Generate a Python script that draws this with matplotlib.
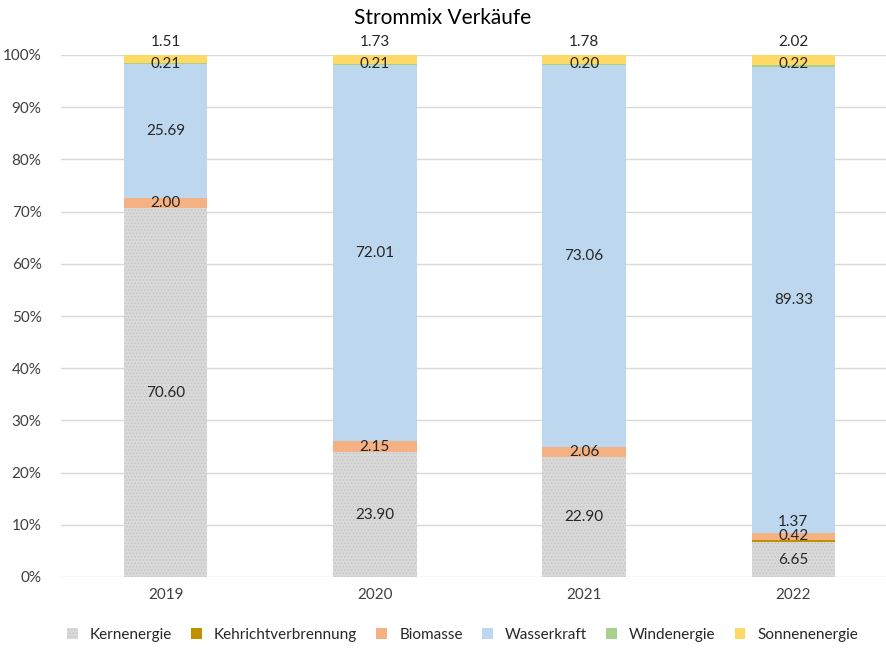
import numpy as np
import matplotlib
matplotlib.use('Agg')
import matplotlib.pyplot as plt

plt.rcParams['font.family'] = ['Lato', 'DejaVu Sans']
plt.rcParams['hatch.linewidth'] = 0.6

years = ['2019', '2020', '2021', '2022']
sources = ['Kernenergie', 'Kehrichtverbrennung', 'Biomasse', 'Wasserkraft', 'Windenergie', 'Sonnenenergie']

kern = [70.60, 23.90, 22.90, 6.65]
kehricht = [0.0, 0.0, 0.0, 0.42]
biomasse = [2.00, 2.15, 2.06, 1.37]
wasser = [25.69, 72.01, 73.06, 89.33]
wind = [0.21, 0.21, 0.20, 0.22]
sonne = [1.51, 1.73, 1.78, 2.02]

COLORS = ['#D9D9D9', '#BF9000', '#F4B183', '#BDD7EE', '#A9D18E', '#FFD966']
LABEL_COLOR = '#262626'

series = [kern, kehricht, biomasse, wasser, wind, sonne]

fig = plt.figure(figsize=(8.86, 6.5), dpi=100)
ax = fig.add_axes([61 / 886, 1 - 577 / 650, 837 / 886, 522 / 650])

x = np.arange(len(years))
bottom = np.zeros(len(years))
for i, (name, vals) in enumerate(zip(sources, series)):
    vals = np.array(vals)
    if i == 0:
        ax.bar(x, vals, 0.4, bottom=bottom, color=COLORS[i], edgecolor='#C4C4C4',
               hatch='.....', linewidth=0, label=name, zorder=2)
    else:
        ax.bar(x, vals, 0.4, bottom=bottom, color=COLORS[i], linewidth=0, label=name, zorder=2)
    for j, v in enumerate(vals):
        if v <= 0:
            continue
        y = bottom[j] + v / 2
        # Excel schiebt kleine Labels auseinander
        if name == 'Sonnenenergie':
            y = 102.5
        elif name == 'Windenergie':
            y = 98.3
        elif name == 'Biomasse' and j == 3:
            y = 10.6
        elif name == 'Kehrichtverbrennung':
            y = 7.8
        ax.text(x[j], y, '%.2f' % v, ha='center', va='center', fontsize=11,
                color=LABEL_COLOR, zorder=3)
    bottom += vals

ax.set_xlim(-0.5, 3.5)
ax.set_ylim(0, 100)
ax.set_yticks(np.arange(0, 101, 10))
ax.set_yticklabels(['%d%%' % t for t in range(0, 101, 10)])
ax.set_xticks(x)
ax.set_xticklabels(years)
ax.tick_params(axis='both', length=0, labelsize=11, colors='#404040', pad=8)
ax.tick_params(axis='y', pad=14)
ax.yaxis.grid(True, color='#D9D9D9', linewidth=1, zorder=0)
ax.set_axisbelow(True)
for s in ax.spines.values():
    s.set_visible(False)

fig.text(0.5, 1 - 18 / 650, 'Strommix Verkäufe', ha='center', va='center', fontsize=15, color='#000000')

fig.legend(loc='center', bbox_to_anchor=(0.522, 1 - 635 / 650), ncol=6, frameon=False,
           fontsize=11, handlelength=0.7, handleheight=0.7, handletextpad=0.8,
           columnspacing=1.25, labelcolor='#262626')

fig.savefig('out.png', dpi=100)
